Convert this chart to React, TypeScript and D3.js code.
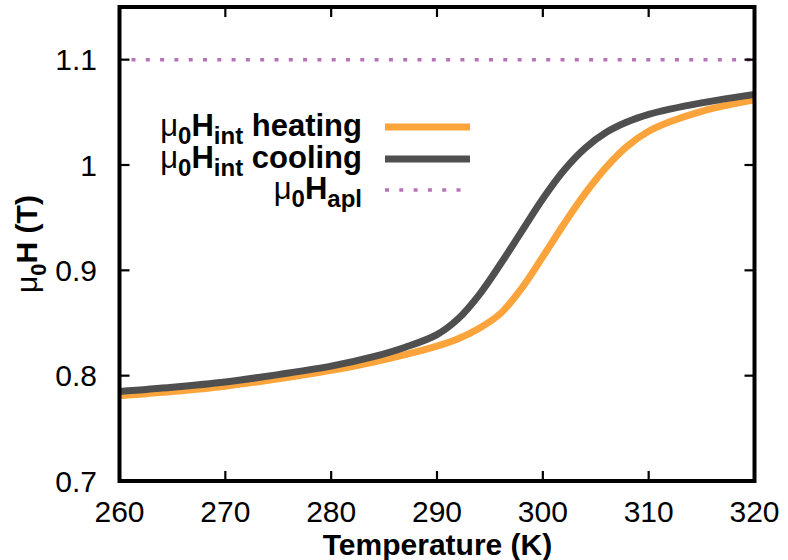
import React from "react";
import * as d3 from "d3";

const temps = [260, 265, 270, 275, 280, 284, 287, 290, 292, 294, 296, 298, 300, 302, 304, 306, 308, 310, 312, 315, 318, 320];
const heating = [0.781, 0.785, 0.790, 0.797, 0.805, 0.813, 0.820, 0.828, 0.835, 0.845, 0.859, 0.883, 0.913, 0.944, 0.973, 0.998, 1.018, 1.032, 1.041, 1.051, 1.058, 1.062];
const cooling = [0.785, 0.789, 0.794, 0.801, 0.809, 0.818, 0.827, 0.839, 0.854, 0.877, 0.906, 0.937, 0.968, 0.995, 1.016, 1.031, 1.041, 1.048, 1.053, 1.059, 1.064, 1.067];
const applied = 1.1;
const xTicks = [260, 270, 280, 290, 300, 310, 320];
const yTicks = [0.7, 0.8, 0.9, 1.0, 1.1];
const yTickLabels = ["0.7", "0.8", "0.9", "1", "1.1"];

const W = 788;
const H = 560;
const L = 119.5, R = 754.5, T = 7, B = 481;
const FONT = "'Liberation Sans', Arial, Helvetica, sans-serif";
const ORANGE = "#fba43c";
const GRAY = "#4f4f4f";
const PURPLE = "#b674b7";

export default function App() {
  const x = d3.scaleLinear().domain([260, 320]).range([L, R]);
  const y = d3.scaleLinear().domain([0.7, 1.15]).range([B, T]);
  const line = d3
    .line<number>()
    .x((_, i) => x(temps[i]))
    .y((d) => y(d))
    .curve(d3.curveCatmullRom.alpha(0.5));

  const legendRows = [
    { sub: "int", label: " heating", color: ORANGE, dash: undefined as string | undefined, w: 7, ly: 127 },
    { sub: "int", label: " cooling", color: GRAY, dash: undefined, w: 7, ly: 159 },
    { sub: "apl", label: "", color: PURPLE, dash: "4 10.3", w: 3.5, ly: 190 },
  ];

  return (
    <svg
      width={W}
      height={H}
      style={{ position: "absolute", left: 0, top: 0, background: "#fff" }}
      fontFamily={FONT}
    >
      <rect x={0} y={0} width={W} height={H} fill="#fff" />
      <defs>
        <clipPath id="plotclip">
          <rect x={L} y={T} width={R - L} height={B - T} />
        </clipPath>
      </defs>
      <g clipPath="url(#plotclip)">
        <line
          x1={L}
          x2={R}
          y1={y(applied)}
          y2={y(applied)}
          stroke={PURPLE}
          strokeWidth={3.5}
          strokeDasharray="4 10.3"
          strokeDashoffset={-12}
        />
        <path d={line(heating) || ""} fill="none" stroke={ORANGE} strokeWidth={7} />
        <path d={line(cooling) || ""} fill="none" stroke={GRAY} strokeWidth={7} />
      </g>

      {/* ticks */}
      {xTicks.map((t) => (
        <g key={"xt" + t}>
          <line x1={x(t)} x2={x(t)} y1={B} y2={B - 10} stroke="#000" strokeWidth={2.2} />
          <line x1={x(t)} x2={x(t)} y1={T} y2={T + 10} stroke="#000" strokeWidth={2.2} />
          <text x={x(t)} y={522} textAnchor="middle" fontSize={30}>
            {t}
          </text>
        </g>
      ))}
      {yTicks.map((t, i) => (
        <g key={"yt" + t}>
          <line x1={L} x2={L + 10} y1={y(t)} y2={y(t)} stroke="#000" strokeWidth={2.2} />
          <line x1={R} x2={R - 10} y1={y(t)} y2={y(t)} stroke="#000" strokeWidth={2.2} />
          <text x={97} y={y(t) + 10.5} textAnchor="end" fontSize={30}>
            {yTickLabels[i]}
          </text>
        </g>
      ))}

      {/* frame */}
      <rect x={L} y={T} width={R - L} height={B - T} fill="none" stroke="#000" strokeWidth={4} />

      {/* axis titles */}
      <text x={437.5} y={555} textAnchor="middle" fontSize={30} fontWeight="bold">
        Temperature (K)
      </text>
      <text transform="translate(37,244) rotate(-90)" textAnchor="middle" fontSize={30} fontWeight="bold">
        <tspan fontWeight="normal">μ</tspan>
        <tspan dy={9} fontSize={22}>0</tspan>
        <tspan dy={-9}>H (T)</tspan>
      </text>

      {/* legend */}
      {legendRows.map((r) => (
        <g key={r.sub + r.label}>
          <text x={362} y={r.ly + 8.5} textAnchor="end" fontSize={31} fontWeight="bold">
            <tspan fontWeight="normal">μ</tspan>
            <tspan dy={8} fontSize={24}>0</tspan>
            <tspan dy={-8}>H</tspan>
            <tspan dy={8} fontSize={24}>{r.sub}</tspan>
            <tspan dy={-8}>{r.label}</tspan>
          </text>
          <line
            x1={385}
            x2={470}
            y1={r.ly}
            y2={r.ly}
            stroke={r.color}
            strokeWidth={r.w}
            strokeDasharray={r.dash}
          />
        </g>
      ))}
    </svg>
  );
}
